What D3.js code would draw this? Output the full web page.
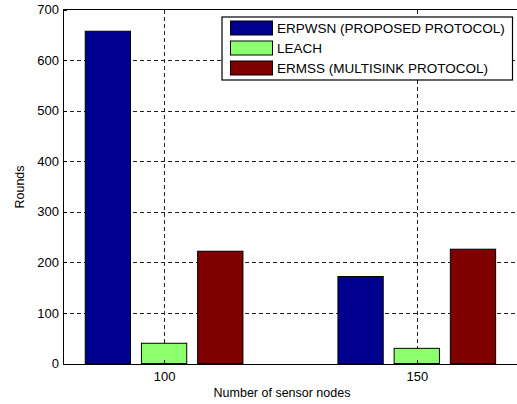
<!DOCTYPE html>
<meta charset="utf-8">
<head>
<script src="https://d3js.org/d3.v7.min.js"></script>
<style>
body { margin: 0; background: #fff; }
svg { font-family: "Liberation Sans", Arial, sans-serif; }
.grid line { stroke: #222; stroke-dasharray: 4,3; shape-rendering: crispEdges; }
.axis path, .axis line { stroke: #000; shape-rendering: crispEdges; }
.axis text { font-size: 13px; fill: #000; }
</style>
</head>
<body>
<svg></svg>
<script>
// data
var nodes = [100, 150];
var series = ["ERPWSN (PROPOSED PROTOCOL)", "LEACH", "ERMSS (MULTISINK PROTOCOL)"];
var colors = ["#00008f", "#8cff6f", "#800000"];
var erpwsn = [657, 172];
var leach = [40, 30];
var ermss = [222, 226];
var yTicks = [0, 100, 200, 300, 400, 500, 600, 700];

var values = [erpwsn, leach, ermss];
var width = 517, height = 404;
var plotLeft = 63, plotTop = 9.5, plotBottom = 363.5;

var svg = d3.select("svg").attr("width", width).attr("height", height);

var x = d3.scaleLinear().domain([80, 170]).range([plotLeft, plotLeft + 1.8 * 252.7]);
var y = d3.scaleLinear().domain([0, 700]).range([plotBottom, plotTop]);
var groupW = 157.7 / 252.7 * 50;
var inner = d3.scaleBand().domain(d3.range(series.length))
    .range([-groupW / 2, groupW / 2]).paddingInner(0.194);

// Grid horizontal
svg.append("g")
    .attr("class", "grid")
    .selectAll("line")
    .data(yTicks.filter(function(d) { return d > 0 && d < 700; }))
    .enter().append("line")
    .attr("x1", plotLeft).attr("x2", width)
    .attr("y1", function(d) { return Math.round(y(d)) + 0.5; })
    .attr("y2", function(d) { return Math.round(y(d)) + 0.5; });

// Grid vertical
svg.append("g")
    .attr("class", "grid")
    .selectAll("line")
    .data(nodes)
    .enter().append("line")
    .attr("x1", function(d) { return Math.round(x(d)) + 0.5; })
    .attr("x2", function(d) { return Math.round(x(d)) + 0.5; })
    .attr("y1", plotTop).attr("y2", plotBottom);

// Bars
var rows = [];
nodes.forEach(function(n, i) {
    series.forEach(function(s, j) {
        rows.push({ node: n, s: j, v: values[j][i] });
    });
});
svg.append("g")
    .selectAll("rect")
    .data(rows)
    .enter().append("rect")
    .attr("x", function(d) { return x(d.node + inner(d.s)); })
    .attr("width", function(d) { return x(d.node + inner(d.s) + inner.bandwidth()) - x(d.node + inner(d.s)); })
    .attr("y", function(d) { return y(d.v); })
    .attr("height", function(d) { return y(0) - y(d.v); })
    .attr("fill", function(d) { return colors[d.s]; })
    .attr("stroke", "#000")
    .attr("stroke-width", 1);

// Y Axis
svg.append("g")
    .attr("class", "axis")
    .attr("transform", "translate(" + plotLeft + ",0)")
    .call(d3.axisLeft(y).tickValues(yTicks).tickSize(-4).tickPadding(4).tickSizeOuter(0));

// X Axis
svg.append("g")
    .attr("class", "axis")
    .attr("transform", "translate(0," + plotBottom + ")")
    .call(d3.axisBottom(x).tickValues(nodes).tickSize(-4).tickPadding(8).tickSizeOuter(0));

// top border
svg.append("line")
    .attr("x1", plotLeft).attr("x2", width)
    .attr("y1", plotTop).attr("y2", plotTop)
    .attr("stroke", "#000").style("shape-rendering", "crispEdges");

// Axis labels
svg.append("text")
    .attr("x", 282).attr("y", 397)
    .attr("text-anchor", "middle")
    .style("font-size", "12.5px")
    .text("Number of sensor nodes");

svg.append("text")
    .attr("transform", "translate(24,187) rotate(-90)")
    .attr("text-anchor", "middle")
    .style("font-size", "12.5px")
    .text("Rounds");

// Legend
var lg = svg.append("g").attr("transform", "translate(222,17)");
lg.append("rect")
    .attr("width", 290.5).attr("height", 63)
    .attr("fill", "#fff").attr("stroke", "#000").attr("stroke-width", 1.2);
series.forEach(function(s, i) {
    lg.append("rect")
        .attr("x", 8.5).attr("y", 4 + i * 20)
        .attr("width", 42).attr("height", 14)
        .attr("fill", colors[i]).attr("stroke", "#000");
    lg.append("text")
        .attr("x", 55).attr("y", 15.5 + i * 20)
        .style("font-size", "13.5px")
        .text(s);
});
</script>
</body>
